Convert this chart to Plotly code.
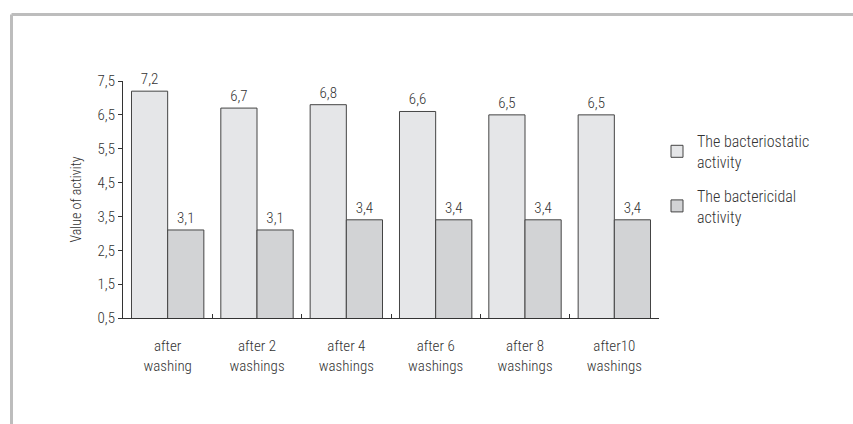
import plotly.graph_objects as go

categories = ["after<br>washing", "after 2<br>washings", "after 4<br>washings",
              "after 6<br>washings", "after 8<br>washings", "after10<br>washings"]
bacteriostatic = [7.2, 6.7, 6.8, 6.6, 6.5, 6.5]
bactericidal = [3.1, 3.1, 3.4, 3.4, 3.4, 3.4]
series_names = ["The bacteriostatic<br>activity", "The bactericidal<br>activity"]
y_ticks = [0.5, 1.5, 2.5, 3.5, 4.5, 5.5, 6.5, 7.5]

FONT = "Roboto Condensed, Roboto, sans-serif"
TXT = "#333333"
FS = 15
W = 300

def fnt(size=FS):
    return dict(family=FONT, size=size, color=TXT, weight=W)

fig = go.Figure()
fig.add_trace(go.Bar(
    x=categories, y=bacteriostatic, name=series_names[0],
    marker=dict(color="#e5e6e8", line=dict(color="#444444", width=1)),
    texttemplate="%{y:.1f}", textposition="outside", cliponaxis=False,
    textfont=fnt(), legendgroup="a",
))
fig.add_trace(go.Bar(
    x=categories, y=bactericidal, name=series_names[1],
    marker=dict(color="#d2d3d5", line=dict(color="#444444", width=1)),
    texttemplate="%{y:.1f}", textposition="outside", cliponaxis=False,
    textfont=fnt(), legendgroup="b",
))

# convert pixel positions to paper coords
L, R, T, B = 123, 659, 81, 318
def px(x):
    return (x - L) / (R - L)
def py(y):
    return (B - y) / (B - T)

fig.update_layout(
    width=853, height=424,
    margin=dict(l=L, r=853 - R, t=T, b=424 - B),
    paper_bgcolor="white", plot_bgcolor="white",
    separators=",.",
    barmode="group", bargap=0.19, bargroupgap=0,
    font=fnt(),
    showlegend=True,
    legend=dict(x=px(657), y=py(124), xanchor="left", yanchor="top",
                font=fnt(16), traceorder="grouped", tracegroupgap=10,
                bgcolor="rgba(0,0,0,0)", itemwidth=30),
    xaxis=dict(showline=True, linecolor="#333333", linewidth=1,
               ticks="inside", tickson="boundaries", ticklen=4,
               tickcolor="#333333", ticklabelstandoff=14,
               tickfont=fnt(), showgrid=False, zeroline=False),
    yaxis=dict(range=[0.5, 7.5], tickvals=y_ticks, tickformat=".1f",
               showline=True, linecolor="#333333", linewidth=1,
               ticks="outside", ticklen=4, tickcolor="#333333",
               tickfont=fnt(), showgrid=False, zeroline=False,
               title=dict(text="Value of activity", standoff=12,
                          font=fnt(14))),
    shapes=[
        dict(type="line", xref="paper", yref="paper",
             x0=px(11.5), x1=px(900), y0=py(14.5), y1=py(14.5),
             line=dict(color="#bdbdbd", width=3)),
        dict(type="line", xref="paper", yref="paper",
             x0=px(11.5), x1=px(11.5), y0=py(14.5), y1=py(460),
             line=dict(color="#bdbdbd", width=3)),
    ],
)

fig.write_html("out.html")
